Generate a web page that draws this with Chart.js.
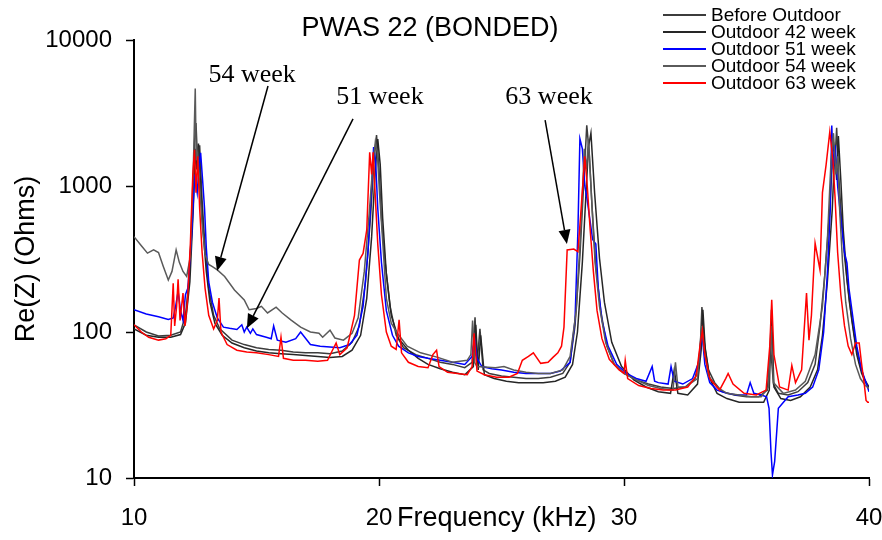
<!DOCTYPE html>
<html>
<head>
<meta charset="utf-8">
<script src="https://cdn.jsdelivr.net/npm/chart.js@4.4.1/dist/chart.umd.min.js"></script>
<style>
  html, body { margin: 0; padding: 0; background: #fff; }
  #wrap { width: 882px; height: 540px; position: relative; }
</style>
</head>
<body>
<div id="wrap"><canvas id="chart"></canvas></div>
<script>
  // Frequencies (kHz) and Re(Z) (Ohms), one pair per series
  const freqBefore = [10, 10.5, 11, 11.5, 11.9, 12.1, 12.25, 12.38, 12.47, 12.53, 12.6, 12.68, 12.78, 12.9, 13.05, 13.25, 13.5, 14, 14.5, 15, 15.5, 16, 16.5, 17, 17.5, 18, 18.5, 18.9, 19.2, 19.45, 19.65, 19.8, 19.9, 20.0, 20.1, 20.25, 20.45, 20.7, 21, 21.5, 22, 22.5, 23, 23.5, 23.8, 23.92, 24.0, 24.12, 24.25, 24.5, 25, 25.5, 26, 26.5, 27, 27.5, 27.8, 28.0, 28.2, 28.35, 28.48, 28.58, 28.7, 28.85, 29.05, 29.3, 29.6, 30.0, 30.5, 31, 31.5, 32, 32.5, 32.9, 33.1, 33.18, 33.28, 33.45, 33.7, 34, 34.5, 35, 35.5, 35.85, 35.98, 36.1, 36.3, 36.7, 37.1, 37.5, 37.8, 38.0, 38.2, 38.4, 38.55, 38.62, 38.68, 38.76, 38.85, 39.0, 39.2, 39.4, 39.6, 39.8, 40];
  const zBefore = [112, 100, 94, 95, 100, 130, 230, 650, 2000, 2700, 1400, 1900, 800, 380, 200, 130, 105, 88, 82, 78, 76, 75, 73, 72, 72, 71, 74, 85, 110, 220, 600, 1500, 2230, 1300, 600, 300, 150, 95, 78, 70, 66, 62, 60, 57, 62, 126, 60, 105, 55, 52, 50, 49, 48, 48, 49, 52, 62, 110, 330, 1000, 2600, 1700, 700, 280, 140, 80, 60, 52, 47, 44, 42, 41, 42, 48, 70, 148, 85, 55, 45, 39, 37, 36, 36, 40, 80, 44, 38, 37, 39, 45, 60, 110, 250, 700, 2000, 1600, 2500, 1200, 700, 330, 160, 95, 62, 48, 42];

  const freq42 = [10, 10.5, 11, 11.5, 11.9, 12.1, 12.28, 12.42, 12.5, 12.56, 12.63, 12.72, 12.82, 12.95, 13.1, 13.3, 13.6, 14, 14.5, 15, 15.5, 16, 16.5, 17, 17.5, 18, 18.5, 18.9, 19.25, 19.5, 19.7, 19.85, 19.95, 20.05, 20.15, 20.3, 20.5, 20.8, 21.2, 21.6, 22, 22.5, 23, 23.5, 23.85, 23.95, 24.05, 24.15, 24.3, 24.7, 25.2, 25.7, 26.2, 26.7, 27.2, 27.6, 27.9, 28.1, 28.3, 28.45, 28.55, 28.65, 28.8, 29.0, 29.2, 29.5, 29.9, 30.4, 30.9, 31.4, 31.9, 32.05, 32.2, 32.6, 33.0, 33.15, 33.22, 33.32, 33.5, 33.8, 34.2, 34.7, 35.2, 35.7, 35.93, 36.02, 36.12, 36.4, 36.8, 37.2, 37.6, 37.9, 38.1, 38.3, 38.5, 38.6, 38.68, 38.75, 38.85, 38.95, 39.1, 39.3, 39.5, 39.7, 39.9, 40];
  const z42 = [105, 95, 92, 92, 96, 115, 220, 700, 1800, 1300, 1950, 1000, 500, 260, 160, 115, 95, 84, 78, 74, 72, 71, 70, 69, 68, 67, 68, 75, 95, 170, 450, 1300, 2100, 1400, 600, 250, 130, 90, 75, 66, 60, 56, 53, 51, 58, 112, 55, 95, 51, 48, 46, 45, 45, 45, 46, 49, 60, 100, 300, 900, 1850, 2300, 900, 320, 160, 85, 58, 47, 42, 39, 38, 55, 38, 37, 44, 75, 142, 75, 48, 38, 35, 33, 33, 33, 40, 142, 42, 35, 34, 36, 42, 55, 95, 220, 690, 1700, 1100, 2200, 1100, 500, 230, 120, 70, 52, 44, 42];

  const freq51 = [10, 10.5, 11, 11.4, 11.6, 11.7, 11.8, 11.9, 12.0, 12.1, 12.2, 12.35, 12.48, 12.58, 12.66, 12.72, 12.8, 12.88, 12.95, 13.05, 13.2, 13.4, 13.65, 13.9, 14.2, 14.4, 14.5, 14.6, 14.75, 14.85, 15.0, 15.4, 15.6, 15.7, 15.85, 16.2, 16.6, 16.8, 17.2, 17.6, 18.0, 18.4, 18.8, 19.1, 19.35, 19.55, 19.7, 19.78, 19.86, 19.95, 20.1, 20.3, 20.55, 20.8, 21.2, 21.6, 22, 22.5, 23, 23.5, 23.8, 23.9, 24.0, 24.2, 24.6, 25, 25.5, 26, 26.5, 27, 27.4, 27.8, 28.0, 28.12, 28.2, 28.3, 28.4, 28.5, 28.6, 28.72, 28.85, 28.95, 29.1, 29.35, 29.7, 30.1, 30.5, 30.9, 31.15, 31.25, 31.4, 31.8, 31.92, 32.05, 32.4, 32.8, 33.05, 33.18, 33.3, 33.5, 33.8, 34.2, 34.6, 35.0, 35.15, 35.3, 35.6, 35.82, 35.92, 36.0, 36.06, 36.15, 36.3, 36.7, 37.1, 37.4, 37.7, 37.95, 38.15, 38.3, 38.42, 38.48, 38.55, 38.62, 38.72, 38.85, 39.0, 39.1, 39.18, 39.3, 39.5, 39.7, 39.9, 40];
  const z51 = [142, 133, 127, 122, 125, 150, 190, 140, 120, 180, 200, 450, 1200, 900, 1400, 1690, 1100, 700, 380, 220, 160, 125, 108, 106, 104, 112, 100, 108, 98, 105, 96, 92, 90, 110, 88, 85, 90, 100, 82, 80, 79, 78, 82, 95, 150, 350, 1000, 1850, 1500, 700, 300, 140, 95, 80, 72, 68, 66, 64, 62, 60, 68, 90, 66, 58, 56, 55, 53, 52, 52, 52, 54, 62, 120, 500, 2110, 1800, 1000, 800, 600, 430, 400, 200, 120, 80, 60, 52, 48, 46, 58, 46, 45, 44, 58, 46, 44, 48, 62, 100, 60, 45, 40, 38, 37, 37, 45, 38, 37, 36, 30, 15, 10.5, 13, 30, 36, 37, 38, 42, 55, 100, 250, 700, 2600, 1300, 1900, 1000, 600, 350, 297, 200, 142, 80, 55, 44, 39];

  const freq54 = [10, 10.3, 10.55, 10.8, 11.0, 11.2, 11.4, 11.55, 11.72, 11.85, 12.0, 12.15, 12.3, 12.42, 12.5, 12.54, 12.6, 12.68, 12.78, 12.9, 13.05, 13.2, 13.4, 13.7, 14.1, 14.5, 14.7, 15.0, 15.2, 15.45, 15.8, 16.05, 16.4, 16.8, 17.2, 17.55, 17.7, 18.0, 18.2, 18.55, 18.9, 19.15, 19.4, 19.6, 19.75, 19.85, 19.93, 20.02, 20.15, 20.3, 20.5, 20.75, 21.15, 21.7, 22.4, 23.0, 23.6, 23.75, 23.82, 23.9, 24.0, 24.75, 25.1, 25.5, 26.0, 26.5, 27.0, 27.5, 27.8, 28.05, 28.25, 28.38, 28.47, 28.55, 28.68, 28.82, 29.0, 29.25, 29.6, 30.0, 30.5, 31.0, 31.5, 32.0, 32.1, 32.2, 32.5, 33.0, 33.17, 33.27, 33.45, 33.8, 34.2, 34.7, 35.2, 35.6, 35.9, 36.0, 36.1, 36.5, 37.0, 37.4, 37.8, 38.1, 38.3, 38.45, 38.55, 38.65, 38.72, 38.8, 38.92, 39.05, 39.25, 39.45, 39.65, 39.85, 40];
  const z54 = [450, 390, 347, 365, 350, 280, 227, 260, 365, 300, 260, 240, 330, 1300, 4650, 1500, 1700, 1000, 550, 340, 290, 280, 266, 240, 194, 166, 142, 145, 150, 135, 148, 135, 121, 108, 100, 98, 92, 103, 91, 88, 98, 125, 260, 650, 1400, 2000, 1700, 900, 420, 170, 115, 98, 80, 72, 67, 62, 64, 70, 120, 62, 58, 57, 58, 55, 53, 52, 52, 55, 68, 140, 550, 1800, 1300, 2100, 800, 300, 150, 85, 60, 52, 47, 43, 41, 40, 62, 42, 42, 48, 110, 75, 50, 42, 38, 37, 36, 36, 42, 110, 45, 38, 40, 46, 70, 150, 420, 1500, 2300, 1200, 1600, 700, 300, 160, 90, 60, 48, 43, 41];

  const freq63 = [10, 10.3, 10.6, 11.0, 11.3, 11.5, 11.6, 11.66, 11.74, 11.8, 11.88, 12.0, 12.08, 12.18, 12.3, 12.4, 12.47, 12.53, 12.6, 12.68, 12.78, 12.9, 13.05, 13.25, 13.4, 13.47, 13.55, 13.8, 14.2, 14.6, 15.0, 15.5, 15.9, 16.0, 16.1, 16.5, 17.0, 17.5, 17.9, 18.1, 18.25, 18.4, 18.7, 19.0, 19.2, 19.35, 19.5, 19.62, 19.7, 19.76, 19.84, 19.95, 20.1, 20.3, 20.5, 20.7, 20.82, 20.92, 21.2, 21.6, 22.0, 22.2, 22.35, 22.45, 22.8, 23.2, 23.6, 23.8, 23.88, 24.0, 24.3, 24.8, 25.3, 25.65, 25.85, 26.1, 26.3, 26.6, 26.9, 27.1, 27.3, 27.45, 27.55, 27.68, 27.95, 28.12, 28.25, 28.4, 28.5, 28.62, 28.75, 28.9, 29.1, 29.4, 29.8, 30.0, 30.05, 30.15, 30.6, 31.1, 31.6, 32.1, 32.6, 32.95, 33.1, 33.2, 33.3, 33.5, 33.9, 34.15, 34.25, 34.45, 34.9, 35.4, 35.8, 35.95, 36.03, 36.12, 36.35, 36.7, 36.85, 37.0, 37.25, 37.45, 37.55, 37.65, 37.8, 38.0, 38.1, 38.25, 38.4, 38.53, 38.62, 38.72, 38.85, 39.0, 39.15, 39.3, 39.45, 39.6, 39.7, 39.8, 39.88, 39.95, 40];
  const z63 = [112, 100, 92, 88, 90, 95, 216, 110, 150, 230, 120, 185, 110, 160, 400, 1200, 1770, 900, 1600, 700, 350, 200, 130, 105, 120, 171, 100, 82, 75, 73, 72, 70, 68, 92, 66, 64, 64, 63, 64, 75, 84, 70, 78, 130, 311, 345, 500, 1700, 1200, 1700, 900, 400, 180, 100, 80, 76, 121, 72, 62, 58, 57, 70, 75, 58, 53, 52, 51, 58, 98, 54, 51, 49, 49, 52, 64, 68, 72, 61, 62, 67, 72, 80, 108, 365, 370, 355, 700, 1600, 1000, 500, 260, 140, 90, 65, 55, 52, 64, 48, 43, 41, 40, 40, 42, 50, 80, 103, 70, 48, 40, 48, 52, 44, 38, 37, 40, 80, 166, 70, 42, 40, 59, 45, 55, 185, 88, 130, 405, 266, 900, 1400, 2350, 1500, 800, 350, 180, 110, 80, 70, 84, 84, 60, 45, 34, 33, 33];

  const seriesLabels = ["Before Outdoor", "Outdoor 42 week", "Outdoor 51 week", "Outdoor 54 week", "Outdoor 63 week"];
  const seriesColors = ["#3c3c3c", "#262626", "#0000ff", "#5a5a5a", "#ff0000"];
  const seriesFreq = [freqBefore, freq42, freq51, freq54, freq63];
  const seriesZ = [zBefore, z42, z51, z54, z63];

  const yTicks = [10, 100, 1000, 10000];
  const xTicks = [10, 20, 30, 40];

  // annotation labels and arrows, in data units (kHz, Ohms)
  const notes = [
    { text: "54 week", tx: 14.82, ty: 5750, fx: 15.47, fy: 4840, ax: 13.39, ay: 262 },
    { text: "51 week", tx: 20.04, ty: 4070, fx: 18.94, fy: 2880, ax: 14.61, ay: 106 },
    { text: "63 week", tx: 26.94, ty: 4070, fx: 26.78, fy: 2830, ax: 27.67, ay: 401 },
  ];

  const SANS = "'Liberation Sans', Arial, sans-serif";
  const SERIF = "'Liberation Serif', 'Times New Roman', serif";

  const decor = {
    id: "decor",
    afterDraw(chart) {
      const ctx = chart.ctx;
      const xs = chart.scales.x;
      const ys = chart.scales.y;
      ctx.save();

      // titulo
      ctx.fillStyle = "#000";
      ctx.font = "27px " + SANS;
      ctx.textAlign = "center";
      ctx.textBaseline = "middle";
      ctx.fillText("PWAS 22 (BONDED)", 430, 29);

      // leyenda
      ctx.font = "19px " + SANS;
      ctx.textAlign = "left";
      chart.data.datasets.forEach((ds, i) => {
        const y = 15 + i * 17;
        ctx.strokeStyle = ds.borderColor;
        ctx.lineWidth = 2;
        ctx.beginPath();
        ctx.moveTo(663, y);
        ctx.lineTo(706, y);
        ctx.stroke();
        ctx.fillStyle = "#000";
        ctx.fillText(ds.label, 711, y + 1);
      });

      // etiqueta del eje x, en la linea de los ticks
      ctx.font = "27px " + SANS;
      ctx.fillText("Frequency (kHz)", xs.getPixelForValue(20) + 18, 519);

      // flechas
      notes.forEach((n) => {
        ctx.fillStyle = "#000";
        ctx.font = "26px " + SERIF;
        ctx.textAlign = "center";
        ctx.fillText(n.text, xs.getPixelForValue(n.tx), ys.getPixelForValue(n.ty));
        const x0 = xs.getPixelForValue(n.fx), y0 = ys.getPixelForValue(n.fy);
        const x1 = xs.getPixelForValue(n.ax), y1 = ys.getPixelForValue(n.ay);
        const ang = Math.atan2(y1 - y0, x1 - x0);
        const len = 14, half = 6;
        const bx = x1 - len * Math.cos(ang), by = y1 - len * Math.sin(ang);
        ctx.strokeStyle = "#000";
        ctx.lineWidth = 1.5;
        ctx.beginPath();
        ctx.moveTo(x0, y0);
        ctx.lineTo(bx, by);
        ctx.stroke();
        ctx.beginPath();
        ctx.moveTo(x1, y1);
        ctx.lineTo(bx + half * Math.sin(ang), by - half * Math.cos(ang));
        ctx.lineTo(bx - half * Math.sin(ang), by + half * Math.cos(ang));
        ctx.closePath();
        ctx.fill();
      });
      ctx.restore();
    },
  };

  const datasets = seriesLabels.map((label, i) => ({
    label: label,
    data: seriesFreq[i].map((f, j) => ({ x: f, y: seriesZ[i][j] })),
    borderColor: seriesColors[i],
    backgroundColor: seriesColors[i],
    borderWidth: 1.5,
    pointRadius: 0,
    tension: 0,
    fill: false,
    order: seriesLabels.length - i, // el ultimo encima, como en Excel
  }));

  const axisCommon = {
    grid: { drawOnChartArea: false, drawTicks: true, tickLength: 8, tickColor: "#000", tickWidth: 1.5 },
    border: { color: "#000", width: 2 },
  };

  new Chart(document.getElementById("chart"), {
    type: "line",
    data: { datasets: datasets },
    options: {
      responsive: true,
      maintainAspectRatio: false,
      animation: false,
      devicePixelRatio: 1,
      layout: { padding: { top: 40, right: 13, left: 0, bottom: 0 } },
      plugins: { legend: { display: false }, title: { display: false }, tooltip: { enabled: false } },
      scales: {
        x: {
          ...axisCommon,
          type: "linear",
          min: 10,
          max: 40,
          afterBuildTicks: (s) => { s.ticks = xTicks.map((v) => ({ value: v })); },
          afterFit: (s) => { s.height = 62; s.paddingLeft = 0; s.paddingRight = 0; },
          ticks: { color: "#000", font: { family: SANS, size: 24 }, padding: 18, maxRotation: 0 },
        },
        y: {
          ...axisCommon,
          type: "logarithmic",
          min: 10,
          max: 10000,
          afterBuildTicks: (s) => { s.ticks = yTicks.map((v) => ({ value: v })); },
          afterFit: (s) => { s.width = 134; s.paddingTop = 0; s.paddingBottom = 0; },
          ticks: { color: "#000", font: { family: SANS, size: 24 }, padding: 14, callback: (v) => String(v) },
          title: { display: true, text: "Re(Z) (Ohms)", color: "#000", font: { family: SANS, size: 27 }, padding: { top: 10, bottom: 0 } },
        },
      },
    },
    plugins: [decor],
  });
</script>
</body>
</html>
